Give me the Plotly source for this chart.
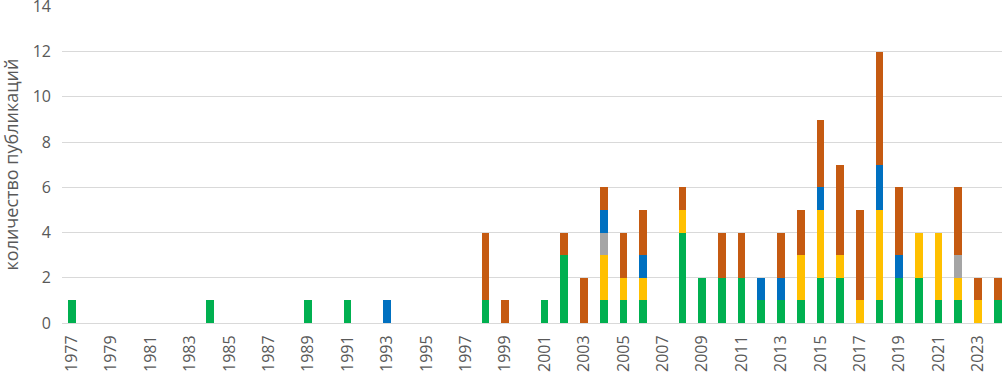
import plotly.graph_objects as go

years = list(range(1977, 2025))

green = {1977: 1, 1984: 1, 1989: 1, 1991: 1, 1998: 1, 2001: 1, 2002: 3, 2004: 1, 2005: 1, 2006: 1,
         2008: 4, 2009: 2, 2010: 2, 2011: 2, 2012: 1, 2013: 1, 2014: 1, 2015: 2, 2016: 2,
         2018: 1, 2019: 2, 2020: 2, 2021: 1, 2022: 1, 2024: 1}
yellow = {2004: 2, 2005: 1, 2006: 1, 2008: 1, 2014: 2, 2015: 3, 2016: 1, 2017: 1, 2018: 4,
          2020: 2, 2021: 3, 2022: 1, 2023: 1}
gray = {2004: 1, 2022: 1}
blue = {1993: 1, 2004: 1, 2006: 1, 2012: 1, 2013: 1, 2015: 1, 2018: 2, 2019: 1}
orange = {1998: 3, 1999: 1, 2002: 1, 2003: 2, 2004: 1, 2005: 2, 2006: 2, 2008: 1, 2010: 2,
          2011: 2, 2013: 2, 2014: 2, 2015: 3, 2016: 4, 2017: 4, 2018: 5, 2019: 3, 2022: 3,
          2023: 1, 2024: 1}

series = [
    ("green", green, "#00B050"),
    ("yellow", yellow, "#FFC000"),
    ("gray", gray, "#A5A5A5"),
    ("blue", blue, "#0070C0"),
    ("orange", orange, "#C55A11"),
]

y_ticks = [0, 2, 4, 6, 8, 10, 12, 14]
tick_years = list(range(1977, 2024, 2))
tick_labels = [str(y) for y in tick_years]
y_title = "количество публикаций"

fig = go.Figure()
for name, d, col in series:
    fig.add_trace(go.Bar(
        x=years, y=[d.get(y, 0) for y in years], name=name,
        marker=dict(color=col, line=dict(width=0)), width=0.39,
    ))

fig.update_layout(
    barmode="stack",
    width=1002, height=373,
    margin=dict(l=62, r=0, t=6, b=50, autoexpand=False),
    plot_bgcolor="white", paper_bgcolor="white",
    showlegend=False,
    font=dict(family="Open Sans", color="#595959", size=16),
    xaxis=dict(
        range=[1976.5, 2024.22], automargin=False,
        tickmode="array", tickvals=tick_years, ticktext=tick_labels,
        tickangle=-90, showgrid=False, zeroline=False,
        showline=True, linecolor="#D9D9D9", linewidth=1,
        ticks="", tickfont=dict(size=16, color="#595959"),
        ticklabelstandoff=5, ticklabeloverflow="allow",
    ),
    yaxis=dict(
        range=[0, 14.02], automargin=False, tickmode="array", tickvals=y_ticks,
        showgrid=True, gridcolor="#D9D9D9", gridwidth=1,
        zeroline=False, showline=False, ticks="",
        tickfont=dict(size=16, color="#595959"),
        ticklabelstandoff=10, ticklabeloverflow="allow",
    ),
    annotations=[dict(
        text=y_title, xref="paper", yref="paper", x=0, y=0.5,
        xanchor="center", yanchor="middle", xshift=-52, textangle=-90,
        showarrow=False, font=dict(size=18, color="#595959"),
    )],
)

fig.write_html("out.html", config={"displayModeBar": False},
               post_script="document.body.style.margin='0';document.body.style.overflow='hidden';")
